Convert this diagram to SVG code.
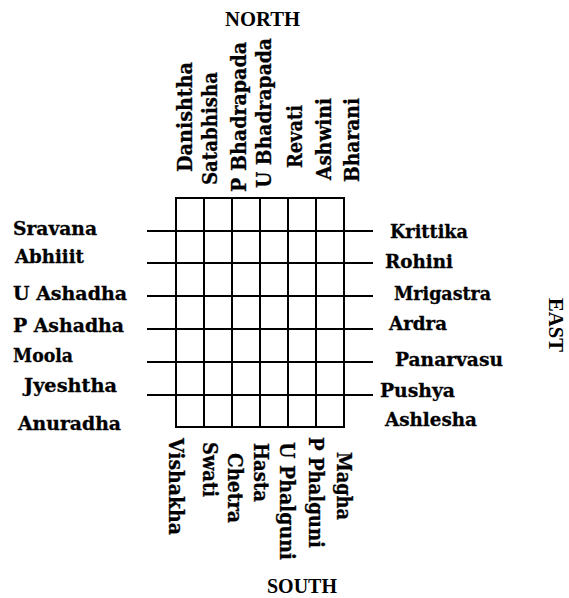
<svg xmlns="http://www.w3.org/2000/svg" width="569" height="598" viewBox="0 0 569 598">
<style>
.l{font-family:"DejaVu Serif","Liberation Serif",serif;font-weight:bold;font-size:18px;fill:#000;stroke:#000;stroke-width:0.3}
.v{font-family:"DejaVu Serif","Liberation Serif",serif;font-weight:bold;font-size:21px;fill:#000;stroke:#000;stroke-width:0.3}
.d{font-family:"Liberation Serif","DejaVu Serif",serif;font-weight:bold;font-size:20px;fill:#000}
.g line{stroke:#000;stroke-width:2;stroke-linecap:square}
</style>
<rect width="569" height="598" fill="#fff"/>
<g id="connectors" class="g">
<line x1="176" y1="198" x2="344" y2="198"/>
<line x1="176" y1="427" x2="344" y2="427"/>
<line x1="148" y1="231" x2="372" y2="231"/>
<line x1="148" y1="263" x2="372" y2="263"/>
<line x1="148" y1="296" x2="372" y2="296"/>
<line x1="148" y1="329" x2="372" y2="329"/>
<line x1="148" y1="362" x2="372" y2="362"/>
<line x1="148" y1="395" x2="372" y2="395"/>
<line x1="176" y1="198" x2="176" y2="427"/>
<line x1="204" y1="198" x2="204" y2="427"/>
<line x1="232" y1="198" x2="232" y2="427"/>
<line x1="260" y1="198" x2="260" y2="427"/>
<line x1="288" y1="198" x2="288" y2="427"/>
<line x1="316" y1="198" x2="316" y2="427"/>
<line x1="344" y1="198" x2="344" y2="427"/>
</g>
<g id="north"><text class="d" x="225" y="26" textLength="75" lengthAdjust="spacingAndGlyphs">NORTH</text></g>
<g id="south"><text class="d" x="267" y="593" textLength="70" lengthAdjust="spacingAndGlyphs">SOUTH</text></g>
<g id="east"><text class="d" transform="translate(549,298) rotate(90)" textLength="54" lengthAdjust="spacingAndGlyphs">EAST</text></g>

<g id="danishtha"><text class="v" transform="translate(192,172) rotate(-90)" textLength="110" lengthAdjust="spacingAndGlyphs">Danishtha</text></g>
<g id="satabhisha"><text class="v" transform="translate(217,185) rotate(-90)" textLength="113" lengthAdjust="spacingAndGlyphs">Satabhisha</text></g>
<g id="p-bhadrapada"><text class="v" transform="translate(246,192) rotate(-90)" textLength="150" lengthAdjust="spacingAndGlyphs">P Bhadrapada</text></g>
<g id="u-bhadrapada"><text class="v" transform="translate(271,188) rotate(-90)" textLength="150" lengthAdjust="spacingAndGlyphs">U Bhadrapada</text></g>
<g id="revati"><text class="v" transform="translate(302,168) rotate(-90)" textLength="63" lengthAdjust="spacingAndGlyphs">Revati</text></g>
<g id="ashwini"><text class="v" transform="translate(331,180) rotate(-90)" textLength="82" lengthAdjust="spacingAndGlyphs">Ashwini</text></g>
<g id="bharani"><text class="v" transform="translate(359,182) rotate(-90)" textLength="84" lengthAdjust="spacingAndGlyphs">Bharani</text></g>

<g id="vishakha"><text class="v" transform="translate(169,438) rotate(90)" textLength="97" lengthAdjust="spacingAndGlyphs">Vishakha</text></g>
<g id="swati"><text class="v" transform="translate(203,442) rotate(90)" textLength="55" lengthAdjust="spacingAndGlyphs">Swati</text></g>
<g id="chetra"><text class="v" transform="translate(228,453) rotate(90)" textLength="70" lengthAdjust="spacingAndGlyphs">Chetra</text></g>
<g id="hasta"><text class="v" transform="translate(254,443) rotate(90)" textLength="59" lengthAdjust="spacingAndGlyphs">Hasta</text></g>
<g id="u-phalguni"><text class="v" transform="translate(280,442) rotate(90)" textLength="118" lengthAdjust="spacingAndGlyphs">U Phalguni</text></g>
<g id="p-phalguni"><text class="v" transform="translate(309,437) rotate(90)" textLength="111" lengthAdjust="spacingAndGlyphs">P Phalguni</text></g>
<g id="magha"><text class="v" transform="translate(337,452) rotate(90)" textLength="68" lengthAdjust="spacingAndGlyphs">Magha</text></g>

<g id="sravana"><text class="l" x="13" y="235" textLength="84" lengthAdjust="spacingAndGlyphs">Sravana</text></g>
<g id="abhijit"><text class="l" x="15" y="263" textLength="69" lengthAdjust="spacingAndGlyphs">Abhiiit</text></g>
<g id="u-ashadha"><text class="l" x="13" y="300" textLength="114" lengthAdjust="spacingAndGlyphs">U Ashadha</text></g>
<g id="p-ashadha"><text class="l" x="13" y="332" textLength="111" lengthAdjust="spacingAndGlyphs">P Ashadha</text></g>
<g id="moola"><text class="l" x="13" y="362" textLength="60" lengthAdjust="spacingAndGlyphs">Moola</text></g>
<g id="jyeshtha"><text class="l" x="24" y="392" textLength="93" lengthAdjust="spacingAndGlyphs">Jyeshtha</text></g>
<g id="anuradha"><text class="l" x="18" y="430" textLength="103" lengthAdjust="spacingAndGlyphs">Anuradha</text></g>

<g id="krittika"><text class="l" x="390" y="238" textLength="78" lengthAdjust="spacingAndGlyphs">Krittika</text></g>
<g id="rohini"><text class="l" x="385" y="268" textLength="68" lengthAdjust="spacingAndGlyphs">Rohini</text></g>
<g id="mrigastra"><text class="l" x="394" y="300" textLength="97" lengthAdjust="spacingAndGlyphs">Mrigastra</text></g>
<g id="ardra"><text class="l" x="389" y="330" textLength="58" lengthAdjust="spacingAndGlyphs">Ardra</text></g>
<g id="panarvasu"><text class="l" x="395" y="366" textLength="108" lengthAdjust="spacingAndGlyphs">Panarvasu</text></g>
<g id="pushya"><text class="l" x="380" y="397" textLength="75" lengthAdjust="spacingAndGlyphs">Pushya</text></g>
<g id="ashlesha"><text class="l" x="385" y="426" textLength="92" lengthAdjust="spacingAndGlyphs">Ashlesha</text></g>
</svg>
